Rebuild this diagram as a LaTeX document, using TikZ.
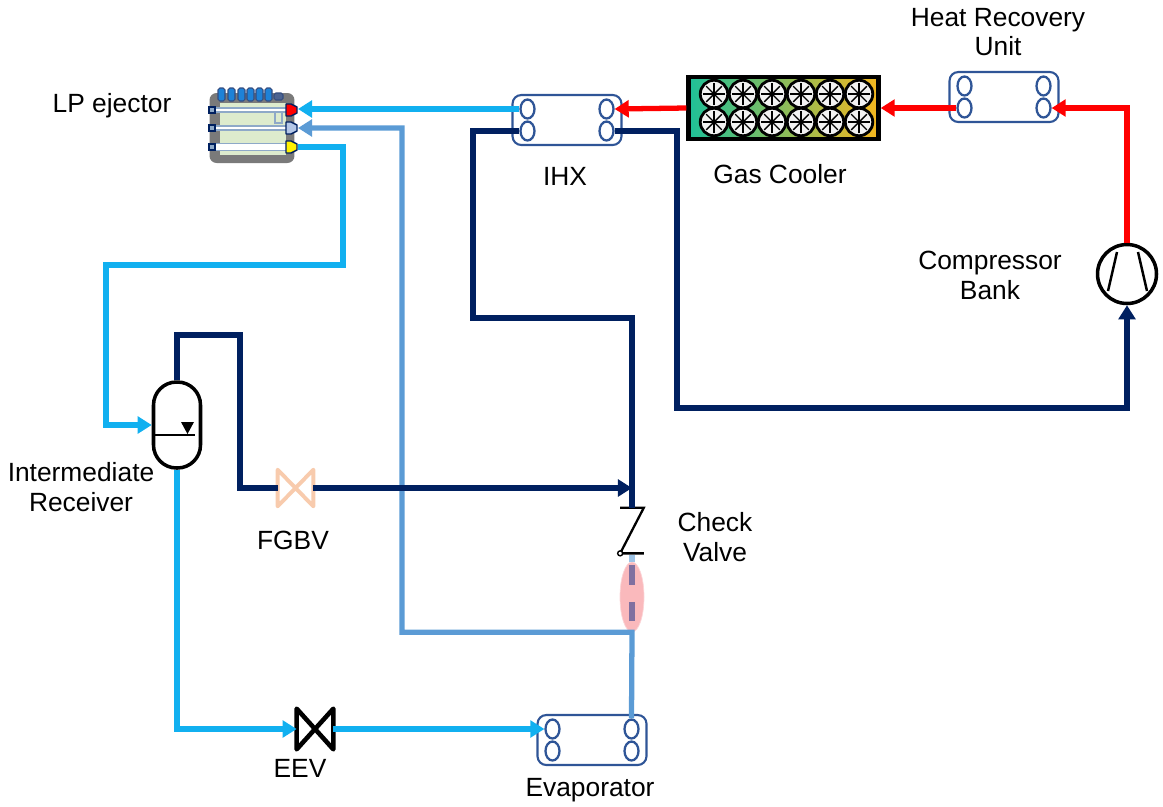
\documentclass[tikz,border=0pt]{standalone}
\usepackage{fontspec}
\setmainfont{Liberation Sans}
\usetikzlibrary{shapes.geometric, arrows.meta, positioning, calc}
\definecolor{cCyan}{RGB}{17,176,240}
\definecolor{cSteel}{RGB}{91,155,213}
\definecolor{cNavy}{RGB}{0,32,96}
\definecolor{cRed}{RGB}{255,0,0}
\definecolor{cPlate}{RGB}{47,85,151}
\definecolor{cPeach}{RGB}{248,203,173}
\definecolor{cPink}{RGB}{250,185,188}
\definecolor{cDash}{RGB}{128,112,160}
\definecolor{cGcL}{RGB}{30,192,152}
\definecolor{cGcM}{RGB}{160,202,100}
\definecolor{cGcR}{RGB}{246,184,30}
\definecolor{cEjGray}{RGB}{122,122,122}
\definecolor{cEjGreen}{RGB}{221,235,205}
\definecolor{cChip}{RGB}{30,130,215}
\definecolor{cTube}{RGB}{142,169,200}
\definecolor{cNozzle}{RGB}{180,199,231}
\tikzset{
	pipe/.style     ={line width=3pt},
	flow/.style     ={pipe, -{Triangle[length=8pt, width=9.5pt]}},
	hxbox/.style    ={rectangle, rounded corners=5pt, draw=cPlate, line width=1.2pt, fill=white, minimum width=2.18cm, minimum height=1.0cm},
	port/.style     ={ellipse, draw=cPlate, line width=1.3pt, fill=white, minimum width=0.28cm, minimum height=0.38cm, inner sep=0pt},
	valvebox/.style ={rectangle, inner sep=0pt, minimum width=0.72cm, minimum height=0.76cm},
	fan/.style      ={circle, draw=black, line width=1.6pt, fill=gray!10, minimum size=0.55cm, inner sep=0pt},
	lbl/.style      ={align=center, font=\fontsize{15}{17}\selectfont},
}
% plate heat exchanger with four port holes
\newcommand{\hxunit}[3]{%
	\node[hxbox] (#1) at (#2,#3) {};
	\node[port] (#1-tl) at ([shift={(-39.5,-11)}]#1.center) {};
	\node[port] (#1-bl) at ([shift={(-39.5,11)}]#1.center) {};
	\node[port] (#1-tr) at ([shift={(39.5,-11)}]#1.center) {};
	\node[port] (#1-br) at ([shift={(39.5,11)}]#1.center) {};
}

\begin{document}
\begin{tikzpicture}[x=0.02cm, y=-0.02cm]
	\useasboundingbox (0,0) rectangle (1163,806);

	% heat exchangers
	\hxunit{ihx}{567}{120}
	\hxunit{hru}{1004}{97}
	\hxunit{evap}{592}{740}

	% gas cooler with two rows of fans
	\node[draw=black, line width=2.5pt, left color=cGcL, middle color=cGcM, right color=cGcR, minimum width=3.8cm, minimum height=1.24cm, inner sep=0pt] (gc) at (783.5,108) {};
	\foreach \fx [count=\i] in {714,743,772,801,830,859}
		\foreach \fy [count=\j] in {94,122} {
			\node[fan] (fan\i\j) at (\fx,\fy) {};
			\foreach \a in {0,45,90,135}
				\draw[line width=0.8pt] (fan\i\j.center) ++(\a:11) -- ++(\a+180:22);
		}

	% compressor
	\node[circle, draw=black, line width=2pt, fill=white, minimum size=1.18cm, inner sep=0pt] (comp) at (1127,274) {};
	\draw[line width=1.4pt] ([shift={(-10,-22)}]comp.center) -- ([shift={(-19,17)}]comp.center);
	\draw[line width=1.4pt] ([shift={(11,-22)}]comp.center) -- ([shift={(20,17)}]comp.center);

	% intermediate receiver
	\node[rectangle, rounded corners=0.46cm, draw=black, line width=2pt, fill=white, minimum width=0.94cm, minimum height=1.72cm] (rcv) at (177,425) {};
	\draw[line width=1.3pt] ([shift={(-24,10)}]rcv.center) -- ([shift={(18,10)}]rcv.center);
	\fill ([shift={(4,-3)}]rcv.center) -- ([shift={(17,-3)}]rcv.center) -- ([shift={(10.5,9)}]rcv.center) -- cycle;

	% valves
	\node[valvebox, minimum width=0.70cm, minimum height=0.72cm] (fgbv) at (295.5,488) {};
	\draw[cPeach, line width=2.2pt, line join=round, fill=white] (fgbv.north west) -- (fgbv.south east) -- (fgbv.north east) -- (fgbv.south west) -- cycle;
	\node[valvebox, minimum height=0.80cm] (eev) at (315,729) {};
	\draw[black, line width=2.6pt, line join=round, fill=white] (eev.north west) -- (eev.south east) -- (eev.north east) -- (eev.south west) -- cycle;
	\node[inner sep=0pt, minimum width=0.46cm, minimum height=0.9cm] (cv) at (632,530.5) {};
	\draw[line width=1.3pt] (cv.north west) -- (cv.north east) -- (cv.south west) -- (cv.south east);
	\draw[line width=0.8pt, fill=white] (cv.south west) circle (2.5);

	% sight glass
	\node[ellipse, fill=cPink, draw=cPink!60, minimum width=0.48cm, minimum height=1.4cm, inner sep=0pt] (sg) at (632,597) {};
	\draw[cSteel!60, line width=3pt] ([yshift=4]sg.north) -- (sg.north);
	\draw[cDash, line width=3.2pt, dash pattern=on 11pt off 10pt, dash phase=-2pt] (sg.north) -- (sg.south);

	% LP ejector
	\node[fill=cEjGray, rounded corners=4pt, minimum width=1.7cm, minimum height=1.4cm, inner sep=0pt] (lpej) at (252,128) {};
	\fill[cEjGreen] (220,103) rectangle (286,155);
	\foreach \cx in {218,228,238,247,256,265}
		\draw[cNavy!80, fill=cChip, line width=0.6pt, rounded corners=1pt] (\cx,88) rectangle ++(7,13);
	\draw[cNavy!80, fill=cNavy!70, line width=0.6pt, rounded corners=1pt] (274,93) rectangle ++(9,7);
	\foreach \ty/\th in {110/4, 128/4, 147/7}
		\draw[cTube, fill=white, line width=0.8pt] (214,\ty-\th/2) rectangle (288,\ty+\th/2);
	\draw[cTube, line width=1pt] (275,112) -- (275,123) -- (282,123) -- (282,112);
	\foreach \ty in {110,128,147}
		\draw[cNavy, fill=cTube, line width=0.6pt] (209,\ty-3) rectangle ++(6,6);
	\foreach \ty/\col in {110/red, 128/cNozzle, 147/yellow}
		\draw[cNavy, fill=\col, line width=0.8pt, line join=round] (286,\ty-6) -- (291,\ty-6) -- (297,\ty-3) -- (297,\ty+3) -- (291,\ty+6) -- (286,\ty+6) -- cycle;
	\coordinate (ejp1) at (298,109);
	\coordinate (ejp2) at (298,128);
	\coordinate (ejp3) at (298,147);

	% junction of the flash gas line
	\coordinate (jn) at (632,488);

	% high pressure side
	\draw[flow, cRed] (comp.north) |- (hru-br.east);
	\draw[flow, cRed] (hru-bl.west) -- (gc.east);
	\draw[flow, cRed] (gc.west) -- (ihx-tr.east);

	% ejector outlet, receiver and evaporator feed
	\draw[flow, cCyan] (ihx-tl.west) -- (ejp1);
	\draw[flow, cCyan] (ejp3) -| (343,265) -| (106,425) -- (rcv.west);
	\draw[flow, cCyan] (rcv.south) |- (eev.west);
	\draw[flow, cCyan] (eev.east) -- (evap-tl.west);

	% suction from evaporator to ejector
	\draw[flow, cSteel] (evap-tr.north) -- (sg.south) -- ++(-230,0) |- (ejp2);

	% vapour lines
	\draw[pipe, cNavy] (ihx-bl.west) -| (473,318) -| (cv.north);
	\draw[pipe, cNavy] (rcv.north) |- (240,335) |- (fgbv.west);
	\draw[flow, cNavy] (fgbv.east) -- (jn);
	\draw[flow, cNavy] (ihx-br.east) -| (677,408) -| (comp.south);

	% labels
	\node[lbl] (lpejLbl) at (112,106) {LP ejector};
	\node[lbl] (hruLbl) at (998,32) {Heat Recovery\\Unit};
	\node[lbl] (ihxLbl) at (565,176) {IHX};
	\node[lbl] (gcLbl) at (780,174) {Gas Cooler};
	\node[lbl] (compLbl) at (990,275) {Compressor\\Bank};
	\node[lbl] (rcvLbl) at (81,487) {Intermediate\\Receiver};
	\node[lbl] (fgbvLbl) at (293,540) {FGBV};
	\node[lbl] (cvLbl) at (715,537) {Check\\Valve};
	\node[lbl] (eevLbl) at (300,768) {EEV};
	\node[lbl] (evapLbl) at (590,790) {Evaporator};
\end{tikzpicture}
\end{document}
